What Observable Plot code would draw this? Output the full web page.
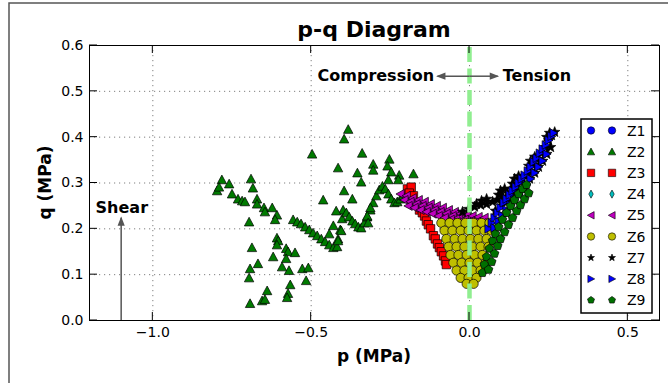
<!DOCTYPE html>
<html><head><meta charset="utf-8">
<script src="https://cdn.jsdelivr.net/npm/d3@7"></script>
<script src="https://cdn.jsdelivr.net/npm/@observablehq/plot@0.6"></script>
<style>html,body{margin:0;padding:0;background:#fff;} svg{display:block;}</style>
</head><body><div id="chart"></div>
<script>
// ---------- data ----------
const seriesNames = ["Z1","Z2","Z3","Z4","Z5","Z6","Z7","Z8","Z9"];
const seriesColors = ["#0000ff","#007a00","#ff0000","#00bfbf","#bf00bf","#bfbf00","#000000","#0000ff","#007000"];
const seriesSymbols = ["circle","triangleUp","square","thinDiamond","triangleLeft","circle","star","triangleRight","pentagon"];
const seriesRadius = [4.5, 4.7, 4.2, 4.5, 4.5, 4.6, 5.5, 4.3, 4.6];

const xTicks = [-1.0, -0.5, 0.0, 0.5];
const yTicks = [0.0, 0.1, 0.2, 0.3, 0.4, 0.5, 0.6];
const xDomain = [-1.2, 0.6];
const yDomain = [0, 0.6];

const z1 = [];
const z2 = [
 [-0.782,0.307],[-0.759,0.298],[-0.797,0.283],[-0.791,0.291],[-0.750,0.276],[-0.731,0.265],[-0.718,0.261],[-0.709,0.259],
 [-0.690,0.309],[-0.684,0.289],[-0.671,0.265],[-0.671,0.254],[-0.649,0.246],[-0.646,0.237],[-0.623,0.246],[-0.608,0.230],
 [-0.614,0.220],[-0.696,0.215],[-0.608,0.180],[-0.604,0.174],[-0.608,0.165],[-0.579,0.157],[-0.573,0.150],[-0.551,0.148],
 [-0.687,0.159],[-0.620,0.139],[-0.579,0.135],[-0.668,0.124],[-0.693,0.113],[-0.696,0.093],[-0.592,0.117],[-0.570,0.109],
 [-0.528,0.113],[-0.509,0.115],[-0.516,0.087],[-0.639,0.065],[-0.566,0.078],[-0.573,0.059],[-0.576,0.050],[-0.655,0.043],
 [-0.646,0.046],[-0.693,0.037],
 [-0.557,0.220],[-0.544,0.215],[-0.532,0.211],[-0.519,0.204],[-0.506,0.198],[-0.494,0.191],[-0.481,0.185],[-0.468,0.178],
 [-0.456,0.172],[-0.443,0.165],[-0.430,0.159],[-0.418,0.161],[-0.415,0.178],[-0.408,0.198],[-0.402,0.222],[-0.399,0.241],
 [-0.389,0.235],[-0.380,0.226],[-0.370,0.217],[-0.361,0.211],[-0.351,0.204],[-0.342,0.202],[-0.332,0.213],[-0.323,0.226],
 [-0.313,0.241],[-0.304,0.257],[-0.294,0.272],[-0.285,0.285],[-0.275,0.293],[-0.266,0.287],[-0.256,0.276],[-0.247,0.265],
 [-0.237,0.257],[-0.228,0.259],[-0.218,0.265],[-0.209,0.272],[-0.199,0.278],
 [-0.383,0.417],[-0.396,0.396],[-0.497,0.363],[-0.339,0.365],[-0.415,0.333],[-0.304,0.341],[-0.304,0.328],[-0.253,0.352],
 [-0.259,0.337],[-0.247,0.324],[-0.222,0.317],[-0.225,0.307],[-0.354,0.322],[-0.342,0.302],[-0.256,0.307],[-0.177,0.320],
 [-0.396,0.283],[-0.370,0.265],[-0.462,0.263],[-0.421,0.239],[-0.313,0.246],[-0.323,0.228],[-0.320,0.213],[-0.430,0.207],
 [-0.405,0.196],[-0.443,0.189],[-0.415,0.174]
];
const z3 = [
 [-0.196,0.287],[-0.184,0.291],[-0.190,0.278],[-0.177,0.272],[-0.158,0.241],[-0.149,0.235],[-0.142,0.228],[-0.136,0.217],
 [-0.130,0.209],[-0.123,0.200],[-0.114,0.185],[-0.108,0.178],[-0.101,0.167],[-0.095,0.159],[-0.089,0.150],[-0.082,0.141],
 [-0.076,0.130],[-0.073,0.122]
];
const z4 = [];
const z5 = [
 [-0.218,0.276],[-0.199,0.272],[-0.180,0.267],[-0.161,0.263],[-0.142,0.259],[-0.123,0.254],[-0.104,0.250],[-0.085,0.246],
 [-0.066,0.241],[-0.047,0.237],[-0.028,0.233],[-0.009,0.230],[0.009,0.228],[0.028,0.226],[0.047,0.224],
 [-0.206,0.263],[-0.187,0.259],[-0.168,0.254],[-0.149,0.250],[-0.130,0.246],[-0.111,0.241],[-0.092,0.237],[-0.073,0.233],
 [-0.054,0.228],[-0.035,0.224],[-0.016,0.220],[0.003,0.217],[0.022,0.215],[0.041,0.213],[0.060,0.213],
 [-0.193,0.250],[-0.174,0.246],[-0.155,0.241],[-0.136,0.237],[-0.117,0.233],[-0.098,0.228],[-0.079,0.224],[-0.060,0.220],
 [-0.041,0.215],[-0.022,0.211],[-0.003,0.207],[0.016,0.204],[0.035,0.202],[0.054,0.200]
];
const z6 = [
 [-0.089,0.213],[-0.063,0.213],[-0.038,0.213],[-0.013,0.213],[0.013,0.213],[0.038,0.213],[0.063,0.213],
 [-0.079,0.196],[-0.054,0.196],[-0.028,0.196],[-0.003,0.196],[0.022,0.196],[0.047,0.196],[0.070,0.196],
 [-0.073,0.178],[-0.047,0.178],[-0.022,0.178],[0.003,0.178],[0.028,0.178],[0.054,0.178],
 [-0.066,0.161],[-0.041,0.161],[-0.016,0.161],[0.009,0.161],[0.035,0.161],[0.060,0.161],
 [-0.060,0.143],[-0.035,0.143],[-0.009,0.143],[0.016,0.143],[0.041,0.143],
 [-0.051,0.126],[-0.025,0.126],[0.000,0.126],[0.025,0.126],[0.051,0.126],
 [-0.041,0.109],[-0.016,0.109],[0.009,0.109],[0.035,0.109],
 [-0.028,0.093],[-0.003,0.093],[0.022,0.093],
 [-0.009,0.080],[0.013,0.080]
];
const z7 = [
 [-0.022,0.237],[-0.003,0.243],[0.016,0.248],[0.035,0.252],[0.054,0.254],
 [0.022,0.254],[0.038,0.261],[0.054,0.265],[0.092,0.274],[0.098,0.283],[0.111,0.287],[0.136,0.298],[0.142,0.309],
 [0.155,0.315],[0.187,0.337],[0.193,0.348],[0.206,0.357],[0.244,0.400],[0.253,0.409],
 [0.073,0.259],[0.089,0.263],[0.104,0.270],[0.120,0.278],[0.136,0.287],[0.152,0.298],[0.165,0.309],[0.177,0.315],
 [0.190,0.326],[0.203,0.339],[0.215,0.352],[0.228,0.365],[0.241,0.378],[0.250,0.393],[0.259,0.404],[0.269,0.411],
 [0.082,0.239],[0.101,0.250],[0.120,0.261],[0.139,0.272],[0.158,0.283],[0.174,0.296],[0.190,0.309],[0.206,0.322],
 [0.218,0.335],[0.231,0.348],[0.244,0.363],[0.256,0.378]
];
const z8 = [
 [0.060,0.200],[0.070,0.213],[0.079,0.224],[0.089,0.235],[0.098,0.246],[0.108,0.257],[0.117,0.265],[0.127,0.274],
 [0.136,0.283],[0.146,0.291],[0.155,0.300],[0.165,0.309],[0.174,0.317],[0.184,0.326],[0.193,0.335],[0.203,0.346],
 [0.212,0.354],[0.222,0.365],[0.231,0.374],[0.241,0.383],[0.250,0.393],[0.259,0.402],[0.266,0.409],
 [0.079,0.202],[0.092,0.215],[0.104,0.228],[0.117,0.241],[0.130,0.252],[0.142,0.263],[0.155,0.274],[0.168,0.285],
 [0.180,0.296],[0.193,0.309],[0.206,0.322],[0.218,0.335],[0.231,0.348],[0.244,0.363]
];
const z9 = [
 [0.041,0.104],[0.047,0.122],[0.054,0.139],[0.063,0.157],[0.073,0.174],[0.082,0.189],[0.092,0.204],[0.104,0.220],
 [0.117,0.235],[0.130,0.250],[0.142,0.263],[0.155,0.276],[0.168,0.287],[0.180,0.296],
 [0.060,0.111],[0.070,0.128],[0.079,0.146],[0.089,0.163],[0.098,0.178],[0.111,0.193],[0.123,0.209],[0.136,0.224],
 [0.149,0.239],[0.161,0.252],[0.174,0.265],[0.187,0.278]
];
const seriesData = [z1,z2,z3,z4,z5,z6,z7,z8,z9];

// annotations
const arrowX1 = [0, 0, -1.1];
const arrowY1 = [0.533, 0.533, 0];
const arrowX2 = [-0.101, 0.089, -1.1];
const arrowY2 = [0.533, 0.533, 0.224];
const arrowRotate = [180, 0, -90];
const labelTexts = ["Compression", "Tension", "Shear"];
const labelX = [-0.112, 0.105, -1.098];
const labelY = [0.533, 0.533, 0.246];
const titleText = "p-q Diagram";
const xLabel = "p (MPa)";
const yLabel = "q (MPa)";

// ---------- symbols ----------
function polySym(pts) {
  return {draw(ctx, size) {
    const r = Math.sqrt(size / Math.PI);
    pts.forEach(([a, b], i) => i ? ctx.lineTo(a * r, b * r) : ctx.moveTo(a * r, b * r));
    ctx.closePath();
  }};
}
const pent = d3.range(5).map(k => { const a = -Math.PI/2 + k*2*Math.PI/5; return [Math.cos(a), Math.sin(a)]; });
const starPts = d3.range(10).map(k => { const a = -Math.PI/2 + k*Math.PI/5; const rr = k % 2 ? 0.42 : 1; return [rr*Math.cos(a), rr*Math.sin(a)]; });
const symbolMap = {
  circle: d3.symbolCircle,
  triangleUp: polySym([[0,-1],[1,0.85],[-1,0.85]]),
  square: polySym([[-1,-1],[1,-1],[1,1],[-1,1]]),
  thinDiamond: polySym([[0,-1.1],[0.6,0],[0,1.1],[-0.6,0]]),
  triangleLeft: polySym([[-1,0],[0.85,-1],[0.85,1]]),
  triangleRight: polySym([[1,0],[-0.85,-1],[-0.85,1]]),
  pentagon: polySym(pent),
  star: polySym(starPts)
};
const arrowHead = polySym([[0.4,0],[-2.2,-1],[-2.2,1]]);

// ---------- plot ----------
const gridStyle = {stroke: "#000", strokeOpacity: 0.5, strokeWidth: 1, strokeDasharray: "1.2,3.8"};
const marks = [
  Plot.ruleX(xTicks, gridStyle),
  Plot.ruleY(yTicks.filter(v => v > yDomain[0] && v < yDomain[1]), gridStyle)
];
seriesData.forEach((data, i) => {
  marks.push(Plot.dot(data, {
    x: d => d[0], y: d => d[1],
    symbol: symbolMap[seriesSymbols[i]], r: seriesRadius[i],
    fill: seriesColors[i], stroke: "#000", strokeWidth: 0.7
  }));
});
marks.push(Plot.ruleX([0], {y1: yDomain[0], y2: yDomain[1], stroke: "#90ee90", strokeWidth: 4.5, strokeDasharray: "15,6.5"}));
const arrowIdx = d3.range(arrowX1.length);
marks.push(Plot.link(arrowIdx, {
  x1: i => arrowX1[i], y1: i => arrowY1[i], x2: i => arrowX2[i], y2: i => arrowY2[i],
  stroke: "#555", strokeWidth: 1.5
}));
marks.push(Plot.dot(arrowIdx, {
  x: i => arrowX2[i], y: i => arrowY2[i], rotate: i => arrowRotate[i],
  symbol: arrowHead, r: 3.6, fill: "#555", stroke: "none"
}));
const textStyle = {fontWeight: "bold", fontSize: 16, fill: "#000"};
marks.push(Plot.text([0], {x: () => labelX[0], y: () => labelY[0], text: () => labelTexts[0], textAnchor: "end", ...textStyle}));
marks.push(Plot.text([1], {x: () => labelX[1], y: () => labelY[1], text: () => labelTexts[1], textAnchor: "start", ...textStyle}));
marks.push(Plot.text([2], {x: () => labelX[2], y: () => labelY[2], text: () => labelTexts[2], textAnchor: "middle", ...textStyle}));
marks.push(Plot.frame({stroke: "#000", strokeWidth: 1}));

const plot = Plot.plot({
  width: 668, height: 383,
  marginLeft: 89, marginRight: 9, marginTop: 45, marginBottom: 63,
  style: {fontFamily: "'DejaVu Sans', sans-serif", fontSize: "14px", background: "#fff", color: "#000", overflow: "visible"},
  x: {domain: xDomain, ticks: xTicks, tickFormat: d3.format(".1f"), tickSize: 0, tickPadding: 7, label: null},
  y: {domain: yDomain, ticks: yTicks, tickFormat: d3.format(".1f"), tickSize: 0, tickPadding: 6, label: null},
  marks
});
document.getElementById("chart").appendChild(plot);

// ---------- extras: inward ticks, title, axis labels, legend, figure border ----------
const sx = plot.scale("x"), sy = plot.scale("y");
const svg = d3.select(plot);
const L = sx.apply(xDomain[0]), R = sx.apply(xDomain[1]);
const B = sy.apply(yDomain[0]), T = sy.apply(yDomain[1]);
const tk = 8;
const tg = svg.append("g").attr("stroke", "#000").attr("stroke-width", 1);
xTicks.forEach(v => {
  const x = sx.apply(v);
  tg.append("line").attr("x1", x).attr("x2", x).attr("y1", B).attr("y2", B - tk);
  tg.append("line").attr("x1", x).attr("x2", x).attr("y1", T).attr("y2", T + tk);
});
yTicks.forEach(v => {
  const y = sy.apply(v);
  tg.append("line").attr("y1", y).attr("y2", y).attr("x1", L).attr("x2", L + tk);
  tg.append("line").attr("y1", y).attr("y2", y).attr("x1", R).attr("x2", R - tk);
});

svg.append("text").attr("x", (L + R) / 2).attr("y", 37).attr("text-anchor", "middle")
  .attr("font-weight", "bold").attr("font-size", 22).attr("fill", "#000").text(titleText);
svg.append("text").attr("x", (L + R) / 2).attr("y", 362).attr("text-anchor", "middle")
  .attr("font-weight", "bold").attr("font-size", 17).attr("fill", "#000").text(xLabel);
svg.append("text").attr("transform", `translate(51,${(T + B) / 2}) rotate(-90)`).attr("text-anchor", "middle")
  .attr("font-weight", "bold").attr("font-size", 17).attr("fill", "#000").text(yLabel);

// legend
const lg = svg.append("g");
const lx = 581, ly = 119, lw = 71, lh = 194, rowH = 21.2;
lg.append("rect").attr("x", lx).attr("y", ly).attr("width", lw).attr("height", lh)
  .attr("fill", "#fff").attr("stroke", "#000").attr("stroke-width", 1.5);
seriesNames.forEach((name, i) => {
  const cy = ly + 11.5 + i * rowH;
  const r = 3.7;
  const path = d3.symbol().type(symbolMap[seriesSymbols[i]]).size(Math.PI * r * r)();
  [lx + 10, lx + 31].forEach(cx => {
    lg.append("path").attr("d", path).attr("transform", `translate(${cx},${cy})`)
      .attr("fill", seriesColors[i]).attr("stroke", "#000").attr("stroke-width", 0.6);
  });
  lg.append("text").attr("x", lx + 46).attr("y", cy).attr("dy", "0.36em").attr("text-anchor", "start")
    .attr("font-size", 14).attr("fill", "#000").text(name);
});

// figure border
svg.append("path").attr("d", "M9,383V3H668").attr("fill", "none").attr("stroke", "#555").attr("stroke-width", 1.5);
</script></body></html>
